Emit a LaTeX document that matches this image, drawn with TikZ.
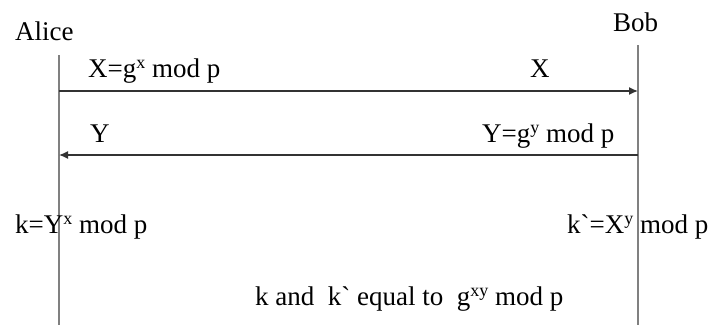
\documentclass[tikz,border=0pt]{standalone}
\usepackage{fontspec}
\setmainfont{Liberation Serif}
\usepackage{xcolor}
\usepackage{tikz}
\usetikzlibrary{arrows.meta,positioning}

\newcommand{\upidx}[1]{\raisebox{0.3em}{\fontsize{18}{20}\selectfont #1}}

\begin{document}
\begin{tikzpicture}[
    x=1pt, y=-1pt,
    font=\fontsize{27}{30}\selectfont,
    lbl/.style={inner sep=0pt, anchor=base west},
    life/.style={draw=black!50, line width=1.3pt},
    msg/.style={draw=black!80, line width=1.4pt, -{Latex[length=9pt,width=8pt]}}
]
\useasboundingbox (0,0) rectangle (712,325);

\node[lbl] (alice) at (15,40) {Alice};
\node[lbl] (bob) at (613,31) {Bob};

\coordinate (aliceTop) at (59,55);
\coordinate (aliceBot) at (59,325);
\coordinate (bobTop) at (638,45);
\coordinate (bobBot) at (638,325);
\draw[life] (aliceTop) -- (aliceBot);
\draw[life] (bobTop) -- (bobBot);

\coordinate (sendA) at (59,91);
\coordinate (recvB) at (638,91);
\coordinate (sendB) at (638,155);
\coordinate (recvA) at (59,155);
\draw[msg] (sendA) -- (recvB);
\draw[msg] (sendB) -- (recvA);

\node[lbl] (msgX) at (88,77) {X=g\upidx{x} mod p};
\node[lbl] (gotX) at (530,77) {X};
\node[lbl] (gotY) at (90,142) {Y};
\node[lbl] (msgY) at (482,142) {Y=g\upidx{y} mod p};

\node[lbl] (keyA) at (15,233) {k=Y\upidx{x} mod p};
\node[lbl] (keyB) at (567,233) {k\textasciigrave=X\upidx{y} mod p};
\node[lbl] (same) at (255,305) {k and~ k\textasciigrave{} equal to~ g\upidx{xy} mod p};
\end{tikzpicture}
\end{document}
